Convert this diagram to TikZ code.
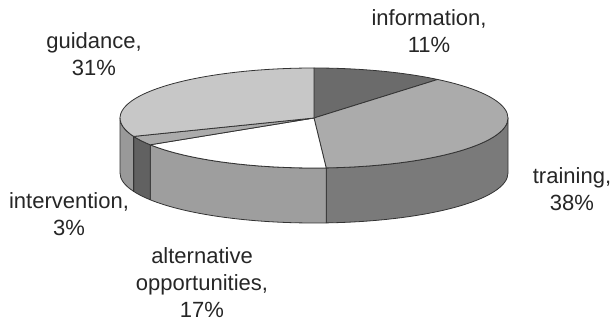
\documentclass[tikz,border=0pt]{standalone}
\usepackage{fontspec}
\setmainfont{Liberation Sans}
\begin{document}
\begin{tikzpicture}[x=1pt,y=1pt,
  lbl/.style={align=center,anchor=base,inner sep=0pt,font=\fontsize{22}{27}\selectfont,text=black!85},
  slice/.style={draw=black!80,line width=0.8pt,line join=round},
  ell/.style={x radius=194,y radius=50}]
\useasboundingbox (0,0) rectangle (612,321);
\begin{scope}[shift={(314,203)}]
  \coordinate (c) at (0,0);
  % side walls
  \draw[slice,fill=black!52] (-86.4:194 and 50) arc[ell,start angle=-86.4,end angle=0]
     -- ++(0,-55) arc[ell,start angle=0,end angle=-86.4] -- cycle;
  \draw[slice,fill=black!38] (-147.6:194 and 50) arc[ell,start angle=-147.6,end angle=-86.4]
     -- ++(0,-55) arc[ell,start angle=-86.4,end angle=-147.6] -- cycle;
  \draw[slice,fill=black!62] (-158.4:194 and 50) arc[ell,start angle=-158.4,end angle=-147.6]
     -- ++(0,-55) arc[ell,start angle=-147.6,end angle=-158.4] -- cycle;
  \draw[slice,fill=black!40] (-180:194 and 50) arc[ell,start angle=-180,end angle=-158.4]
     -- ++(0,-55) arc[ell,start angle=-158.4,end angle=-180] -- cycle;
  % top wedges
  \draw[slice,fill=black!58] (c) -- (90:194 and 50) arc[ell,start angle=90,end angle=50.4] -- cycle;
  \draw[slice,fill=black!33] (c) -- (50.4:194 and 50) arc[ell,start angle=50.4,end angle=-86.4] -- cycle;
  \draw[slice,fill=white] (c) -- (-86.4:194 and 50) arc[ell,start angle=-86.4,end angle=-147.6] -- cycle;
  \draw[slice,fill=black!33] (c) -- (-147.6:194 and 50) arc[ell,start angle=-147.6,end angle=-158.4] -- cycle;
  \draw[slice,fill=black!22] (c) -- (-158.4:194 and 50) arc[ell,start angle=-158.4,end angle=-270] -- cycle;
\end{scope}
% labels (anchor = baseline of the last line)
\node[lbl] (guid) at (94,245) {guidance,\\31\%};
\node[lbl] (info) at (429,268) {information,\\11\%};
\node[lbl] (train) at (572,110) {training,\\38\%};
\node[lbl] (interv) at (69,85) {intervention,\\3\%};
\node[lbl] (alt) at (202,4) {alternative\\opportunities,\\17\%};
\end{tikzpicture}
\end{document}
